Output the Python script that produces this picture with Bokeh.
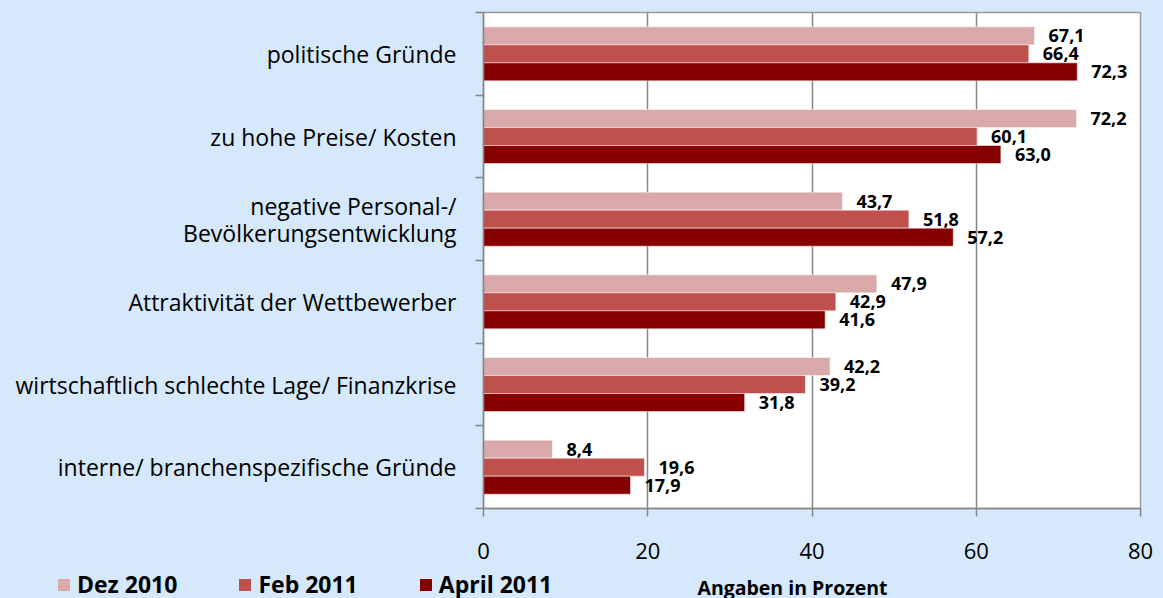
from bokeh.plotting import figure
from bokeh.layouts import column
from bokeh.models import (ColumnDataSource, Range1d, FixedTicker, Legend, LegendItem,
                          Label, GlobalInlineStyleSheet)
from bokeh.transform import dodge
from bokeh.core.properties import value
from bokeh.embed import file_html
from bokeh.resources import INLINE

# ---------------- data ----------------
categories = [
    "politische Gründe",
    "zu hohe Preise/ Kosten",
    "negative Personal-/\nBevölkerungsentwicklung",
    "Attraktivität der Wettbewerber",
    "wirtschaftlich schlechte Lage/ Finanzkrise",
    "interne/ branchenspezifische Gründe",
]
series_names = ["Dez 2010", "Feb 2011", "April 2011"]
dez_2010 = [67.1, 72.2, 43.7, 47.9, 42.2, 8.4]
feb_2011 = [66.4, 60.1, 51.8, 42.9, 39.2, 19.6]
april_2011 = [72.3, 63.0, 57.2, 41.6, 31.8, 17.9]
x_ticks = [0, 20, 40, 60, 80]
axis_title = "Angaben in Prozent"

# ---------------- styles ----------------
colors = ["#DAA9A9", "#C0504D", "#860000"]
BG = "#D5E8FC"
GRID = "#868686"
FONT = "Open Sans"
BAR_H = 0.218
offsets = [BAR_H, 0.0, -BAR_H]

n = len(categories)
ypos = [n - 0.5 - i for i in range(n)]


def fmt(v):
    return f"{v:.1f}".replace(".", ",")


keys = ["dez", "feb", "apr"]
values = [dez_2010, feb_2011, april_2011]
data = dict(y=ypos)
for k, vals in zip(keys, values):
    data[k] = vals
    data[k + "_t"] = [fmt(v) for v in vals]
source = ColumnDataSource(data)

# ---------------- main chart ----------------
p = figure(width=1163, height=575, x_range=Range1d(0, 80), y_range=Range1d(0, n),
           output_backend="svg", toolbar_location=None,
           min_border_left=483, min_border_right=23, min_border_top=12, min_border_bottom=67)
p.frame_align = False
p.border_fill_color = BG
p.background_fill_color = "white"
p.outline_line_color = "#9A9A9A"
p.outline_line_width = 1.5

for k, off, col in zip(keys, offsets, colors):
    p.hbar(y=dodge("y", off, range=p.y_range), left=0, right=k, height=BAR_H,
           fill_color=col, line_color="white", line_alpha=0.5, line_width=1,
           source=source)
    p.text(x=k, y=dodge("y", off, range=p.y_range), text=k + "_t", source=source,
           x_offset=14, text_align="left", text_baseline="middle",
           text_font=value(FONT), text_font_style="bold", text_font_size="18px",
           text_color="black")

# y axis: labels at category centres, tick marks at category boundaries
p.yaxis.ticker = FixedTicker(ticks=ypos, minor_ticks=list(range(n + 1)))
p.yaxis.major_label_overrides = {y: c for y, c in zip(ypos, categories)}
p.yaxis.major_tick_line_color = None
p.yaxis.major_tick_out = 0
p.yaxis.major_tick_in = 0
p.yaxis.minor_tick_out = 8
p.yaxis.minor_tick_in = 0
p.yaxis.minor_tick_line_color = GRID
p.yaxis.minor_tick_line_width = 1.5
p.yaxis.axis_line_color = GRID
p.yaxis.axis_line_width = 1.5
p.yaxis.major_label_standoff = 19
p.yaxis.major_label_text_font = FONT
p.yaxis.major_label_text_font_size = "23px"
p.yaxis.major_label_text_line_height = 0.85
p.yaxis.major_label_text_color = "black"

# x axis
p.xaxis.ticker = FixedTicker(ticks=x_ticks, minor_ticks=[])
p.xaxis.major_tick_out = 8
p.xaxis.major_tick_in = 0
p.xaxis.major_tick_line_color = GRID
p.xaxis.major_tick_line_width = 1.5
p.xaxis.axis_line_color = GRID
p.xaxis.axis_line_width = 1.5
p.xaxis.major_label_standoff = 26
p.xaxis.major_label_text_font = FONT
p.xaxis.major_label_text_font_size = "22px"
p.xaxis.major_label_text_color = "black"

p.xgrid.ticker = FixedTicker(ticks=x_ticks)
p.xgrid.grid_line_color = GRID
p.xgrid.grid_line_width = 1.5
p.ygrid.visible = False

# ---------------- legend / axis title row ----------------
p2 = figure(width=1163, height=23, x_range=Range1d(0, 1), y_range=Range1d(0, 1),
            output_backend="svg", toolbar_location=None,
            x_axis_location=None, y_axis_location=None, min_border=0)
p2.frame_align = False
p2.border_fill_color = BG
p2.background_fill_color = BG
p2.outline_line_color = None
p2.grid.visible = False

legend_renderers = []
for k, off, col in zip(keys, offsets, colors):
    r = p2.hbar(y="y", left=0, right=k, height=BAR_H, fill_color=col,
                line_color=None, source=source, visible=False)
    legend_renderers.append(r)

legend = Legend(items=[LegendItem(label=s, renderers=[r])
                       for s, r in zip(series_names, legend_renderers)],
                orientation="horizontal", location=(56, -2), padding=0, margin=0,
                spacing=60, glyph_width=15, glyph_height=15, label_standoff=6,
                label_height=15, inactive_fill_alpha=0,
                label_text_font=FONT, label_text_font_style="bold",
                label_text_font_size="23px", label_text_color="black",
                border_line_color=None, background_fill_alpha=0)
p2.add_layout(legend)

p2.add_layout(Label(x=792, y=11, x_units="screen", y_units="screen", text=axis_title,
                    text_align="center", text_baseline="alphabetic", text_font=FONT,
                    text_font_style="bold", text_font_size="19.5px", text_color="black"))

p.stylesheets = [GlobalInlineStyleSheet(css="body { background-color: %s; }" % BG)]

layout = column(p, p2, spacing=0)
open("out.html", "w").write(file_html(layout, INLINE))
